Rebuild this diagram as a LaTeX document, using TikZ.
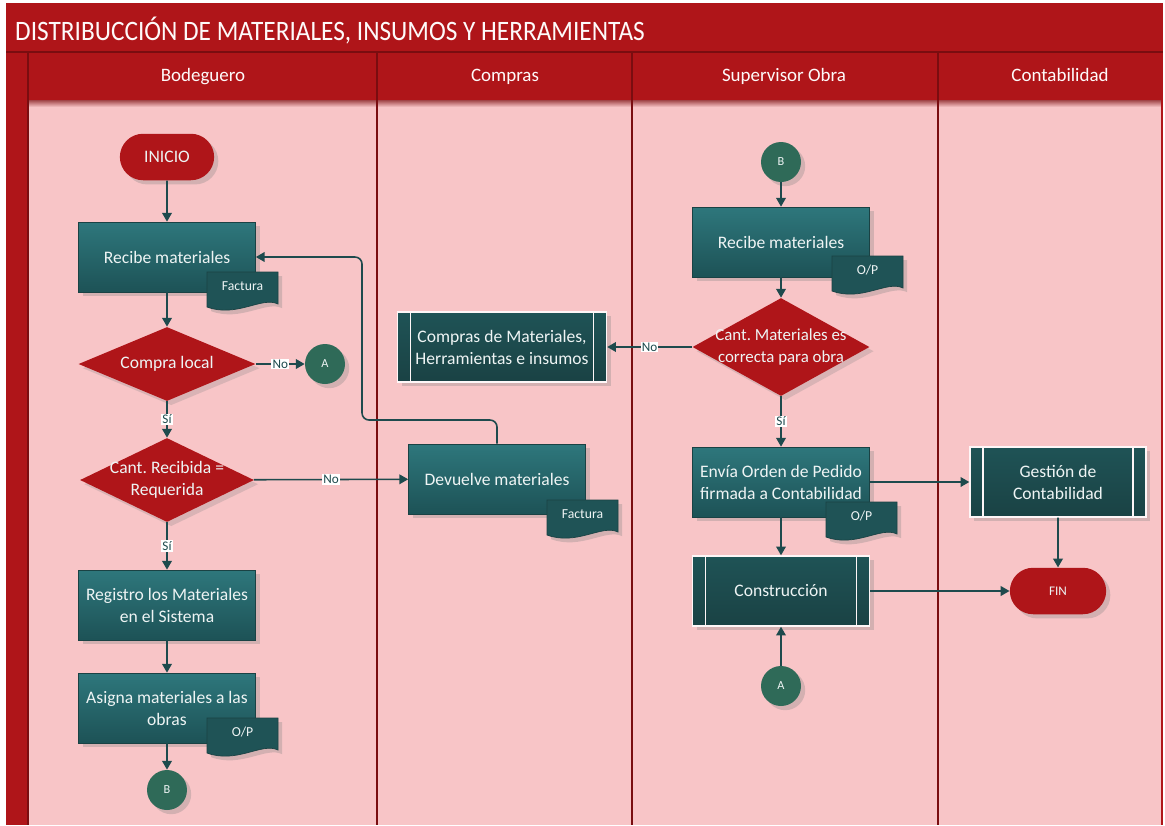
\documentclass[tikz,border=0pt]{standalone}
\usepackage{fontspec}
\setmainfont{Carlito}
\newfontfamily\titulofont[FakeStretch=0.9]{Carlito}
\usetikzlibrary{shapes.geometric,shapes.misc,arrows.meta,shadows}
\frenchspacing

\definecolor{rojo}{HTML}{AF1519}
\definecolor{rojoosc}{HTML}{7A0D10}
\definecolor{rosa}{HTML}{F8C5C7}
\definecolor{tealsup}{HTML}{2E777C}
\definecolor{tealinf}{HTML}{1D5256}
\definecolor{tealosc}{HTML}{1F5356}
\definecolor{tealosc2}{HTML}{1A4244}
\definecolor{verdec}{HTML}{2F6A58}
\definecolor{linea}{HTML}{1E4A4D}
\definecolor{texto}{HTML}{EEF4F4}

\tikzset{
  proceso/.style={rectangle, draw=tealosc2, top color=tealsup, bottom color=tealinf,
    text=texto, align=center, minimum width=3.54cm, minimum height=1.4cm,
    font=\fontsize{10}{12.5}\selectfont, drop shadow={opacity=.3}},
  predef/.style={rectangle, draw=white!85!rosa, line width=0.8pt, top color=tealosc,
    bottom color=tealosc2, text=texto, align=center, minimum height=1.4cm,
    font=\fontsize{10}{12.5}\selectfont, drop shadow={opacity=.3},
    path picture={
      \draw[white!85!rosa, line width=0.8pt]
        ([xshift=0.26cm]path picture bounding box.north west) -- ([xshift=0.26cm]path picture bounding box.south west)
        ([xshift=-0.26cm]path picture bounding box.north east) -- ([xshift=-0.26cm]path picture bounding box.south east);}},
  decision/.style={diamond, fill=rojo, text=texto, align=center, inner sep=0pt,
    minimum width=3.54cm, font=\fontsize{10}{12.5}\selectfont, drop shadow={opacity=.25}},
  terminal/.style={rounded rectangle, fill=rojo, text=texto, minimum height=0.93cm,
    drop shadow={opacity=.3}},
  conector/.style={circle, fill=verdec, text=texto, minimum size=0.8cm, inner sep=0pt,
    font=\fontsize{7}{8}\selectfont, drop shadow={opacity=.3}},
  docforma/.style={draw=tealosc2, fill=tealosc, drop shadow={opacity=.3}},
  doctexto/.style={text=texto, font=\fontsize{7.8}{9}\selectfont},
  flecha/.style={draw=linea, line width=0.9pt, -{Triangle[length=5pt,width=5.5pt]}},
  etiq/.style={fill=white, inner sep=0.6pt, text=linea, font=\fontsize{7.5}{8}\selectfont},
  carril/.style={rojoosc, line width=1.2pt},
  cabecera/.style={text=white!92!rosa, font=\fontsize{10.8}{12}\selectfont,
    text height=1.6ex, text depth=.3ex}
}

% documento con borde ondulado: nombre, x, y (esquina sup. izq.), texto
\newcommand{\documento}[4]{%
  \begin{scope}[shift={(#2,#3)}]
    \path[docforma] (0,0) -- (71,0) -- (71,32) .. controls (55,24) and (30,46) .. (0,35) -- cycle;
    \node[doctexto] (#1) at (35.5,14) {#4};
  \end{scope}}

\begin{document}
\begin{tikzpicture}[x=0.02cm,y=-0.02cm]
\useasboundingbox (0,0) rectangle (1165,825);

% marco y carriles
\fill[rojo] (6,3) rectangle (1163,100);
\fill[rojo] (6,52) rectangle (28,825);
\fill[rosa] (28,100) rectangle (1162,825);
\fill[top color=rojoosc!70!rosa, bottom color=rosa] (28,100) rectangle (1162,107);
\draw[rojoosc, line width=1pt] (6,52) -- (1163,52);
\draw[rojoosc, line width=1.5pt] (28,52) -- (28,825);
\foreach \x in {377,632,938}
  \draw[carril] (\x,52) -- (\x,825);
\draw[rojo, line width=1pt] (1162,100) -- (1162,825);

\node[anchor=west, text=white!92!rosa, font=\titulofont\fontsize{16}{20}\selectfont] (titulo) at (9,31)
  {DISTRIBUCCIÓN DE MATERIALES, INSUMOS Y HERRAMIENTAS};
\node[cabecera] (bodeguero) at (203,76) {Bodeguero};
\node[cabecera] (compras) at (505,76) {Compras};
\node[cabecera] (supervisor) at (784,76) {Supervisor Obra};
\node[cabecera] (contabilidad) at (1060,76) {Contabilidad};

% Bodeguero
\node[terminal, minimum width=2.12cm, font=\fontsize{10}{12}\selectfont] (inicio) at (167,157) {INICIO};
\node[proceso] (recibe1) at (167,257) {Recibe materiales};
\documento{fact1}{207}{272}{Factura}
\node[decision, aspect=2.4, minimum height=1.48cm] (compra) at (167,364) {Compra local};
\node[conector] (a1) at (325,364) {A};
\node[decision, aspect=2.07, inner sep=-4pt, minimum width=3.48cm, minimum height=1.68cm] (cantrec) at (167,480) {Cant. Recibida =\\Requerida};
\node[proceso] (registro) at (167,605) {Registro los Materiales\\en el Sistema};
\node[proceso] (asigna) at (167,708) {Asigna materiales a las\\obras};
\documento{op1}{207}{718}{O/P}
\node[conector] (b1) at (167,790) {B};

% Compras
\node[predef, minimum width=4.18cm] (comprasmat) at (502,347) {Compras de Materiales,\\Herramientas e insumos};
\node[proceso] (devuelve) at (497,479) {Devuelve materiales};
\documento{fact2}{547}{500}{Factura}

% Supervisor Obra
\node[conector] (b2) at (781,162) {B};
\node[proceso] (recibe2) at (781,242) {Recibe materiales};
\documento{op2}{832}{256}{O/P}
\node[decision, aspect=1.8, inner sep=-6pt, minimum height=1.96cm, font=\fontsize{9.6}{12.5}\selectfont] (cantmat) at (781,347) {Cant. Materiales es\\correcta para obra};
\node[proceso] (envia) at (781,482) {Envía Orden de Pedido\\firmada a Contabilidad};
\documento{op3}{826}{502}{O/P}
\node[predef, minimum width=3.54cm] (construccion) at (781,591) {Construcción};
\node[conector] (a2) at (781,686) {A};

% Contabilidad
\node[predef, minimum width=3.52cm] (gestion) at (1058,482) {Gestión de\\Contabilidad};
\node[terminal, minimum width=2.16cm, font=\fontsize{7.5}{9}\selectfont] (fin) at (1058,591) {FIN};

% conectores
\coordinate (giro) at (362,420);
\draw[flecha] (inicio) -- (recibe1);
\draw[flecha] (recibe1) -- (compra);
\draw[flecha] (compra) -- node[etiq] {No} (a1);
\draw[flecha] (compra) -- node[etiq] {Sí} (cantrec);
\draw[flecha] (cantrec) -- node[etiq] {No} (devuelve);
\draw[flecha] (cantrec) -- node[etiq] {Sí} (registro);
\draw[flecha] (registro) -- (asigna);
\draw[flecha] (asigna) -- (b1);
\draw[flecha, rounded corners=4] (devuelve.north) |- (giro) -- (giro |- recibe1.east) -- (recibe1.east);
\draw[flecha] (b2) -- (recibe2);
\draw[flecha] (recibe2) -- (cantmat);
\draw[flecha] (cantmat) -- node[etiq] {No} (comprasmat);
\draw[flecha] (cantmat) -- node[etiq] {Sí} (envia);
\draw[flecha] (envia) -- (gestion);
\draw[flecha] (envia) -- (construccion);
\draw[flecha] (a2) -- (construccion);
\draw[flecha] (construccion) -- (fin);
\draw[flecha] (gestion) -- (fin);
\end{tikzpicture}
\end{document}
